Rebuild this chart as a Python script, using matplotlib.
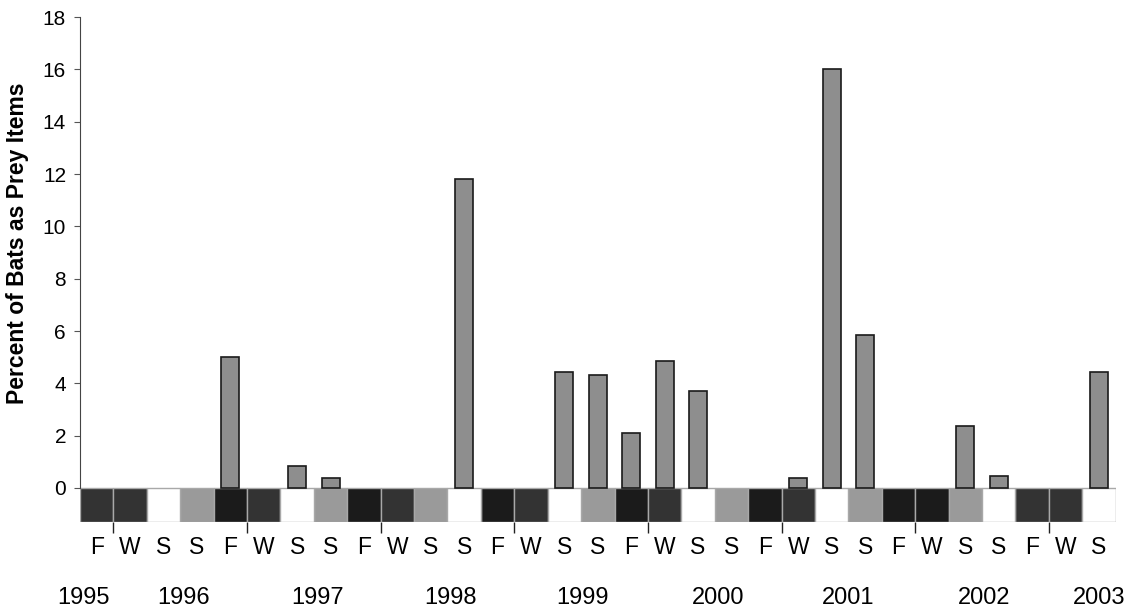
import matplotlib
matplotlib.use("Agg")
import matplotlib.pyplot as plt

plt.rcParams['font.family'] = ['Liberation Sans', 'DejaVu Sans']

# season sequence, Fall 1995 .. Summer 2003
seasons = ['F', 'W', 'S', 'S'] * 7 + ['F', 'W', 'S']
# percent of bats as prey items, per season
bats_pct = [0, 0, 0, 0, 5.0, 0, 0.85, 0.4, 0, 0, 0, 11.8,
            0, 0, 4.45, 4.3, 2.1, 4.85, 3.7, 0, 0, 0.4, 16.0, 5.85,
            0, 0, 2.35, 0.45, 0, 0, 4.45]
# shade class of the strip cell under each season
strip_class = ['dark', 'dark', 'white', 'light', 'black', 'dark', 'white', 'light',
               'black', 'dark', 'light', 'white', 'black', 'dark', 'white', 'light',
               'black', 'dark', 'white', 'light', 'black', 'dark', 'white', 'light',
               'black', 'black', 'light', 'white', 'dark', 'dark', 'white']
years = ['1995', '1996', '1997', '1998', '1999', '2000', '2001', '2002', '2003']

shade = {'black': '#1b1b1b', 'dark': '#333333', 'light': '#9a9a9a', 'white': '#ffffff'}
year_x = [-0.4, 2.6, 6.6, 10.6, 14.55, 18.6, 22.5, 26.55, 30.0]

fig = plt.figure(figsize=(11.42, 6.10), dpi=100)
ax = fig.add_axes([0.070, 0.1443, 0.907, 0.8277])

x = list(range(len(seasons)))
strip_h = 1.3
# shaded cells first, white cells on top so their grey outline shows
for white in (False, True):
    idx = [i for i in x if (strip_class[i] == 'white') == white]
    ax.bar(idx, [strip_h] * len(idx), bottom=-strip_h, width=1.0,
           color=[shade[strip_class[i]] for i in idx], edgecolor='#a8a8a8',
           linewidth=1.0, zorder=2 + white)

nz = [i for i in x if bats_pct[i] > 0]
ax.bar(nz, [bats_pct[i] for i in nz], width=0.54, color='#8e8e8e',
       edgecolor='#1a1a1a', linewidth=1.2, zorder=4)

ax.set_xlim(-0.5, len(x) - 0.5)
ax.set_ylim(-strip_h, 18)
ax.set_yticks(range(0, 19, 2))
ax.tick_params(axis='y', labelsize=15, length=4, width=0.8, color='#555555', pad=6)

ax.set_xticks(x)
ax.set_xticklabels(seasons)
ax.tick_params(axis='x', which='major', length=0, labelsize=16.5, pad=10)
ax.set_xticks([i + 0.5 for i in range(0, len(x) - 1, 4)], minor=True)
ax.tick_params(axis='x', which='minor', length=8, width=1.0, color='#222222', direction='out')

for xp, yr in zip(year_x, years):
    ax.annotate(yr, xy=(xp, 0), xycoords=('data', 'axes fraction'),
                xytext=(0, -54.5), textcoords='offset points',
                ha='center', va='center', fontsize=17)

for s in ['top', 'right', 'bottom']:
    ax.spines[s].set_visible(False)
ax.spines['left'].set_color('#444444')
ax.spines['left'].set_bounds(0, 18)

ax.set_ylabel('Percent of Bats as Prey Items', fontsize=16.5, fontweight='bold')
ax.yaxis.set_label_coords(-0.049, 0.552)

fig.savefig('out.png', dpi=100)
